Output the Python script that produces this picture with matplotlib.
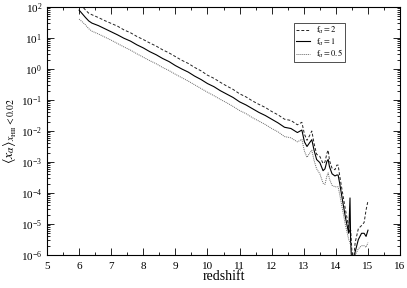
import numpy as np
import matplotlib
matplotlib.use("Agg")
import matplotlib.pyplot as plt
from matplotlib.ticker import FixedLocator, MultipleLocator, NullFormatter, LogFormatterSciNotation

plt.rcParams['font.family'] = ['Liberation Serif', 'DejaVu Serif']
plt.rcParams['mathtext.fontset'] = 'stix'

redshift = [6.0, 6.1, 6.2, 6.3, 6.4, 6.6, 6.8, 7.0, 7.2, 7.4, 7.6, 7.8, 8.0, 8.2, 8.4, 8.6,
            8.8, 9.0, 9.2, 9.4, 9.6, 9.8, 10.0, 10.2, 10.4, 10.6, 10.8, 11.0, 11.2, 11.4,
            11.6, 11.8, 12.0, 12.2, 12.4, 12.6, 12.8, 12.94, 13.02, 13.1, 13.18, 13.25,
            13.32, 13.4, 13.5, 13.6, 13.66, 13.72, 13.76, 13.8, 13.88, 13.97, 14.03, 14.07,
            14.12, 14.2, 14.3, 14.4, 14.44, 14.46, 14.5, 14.55, 14.6, 14.7, 14.8, 14.88,
            14.94, 15.0]

# log10 of <x_alpha>
log_f2 = [2.25, 2.02, 1.90, 1.80, 1.75, 1.66, 1.56, 1.47, 1.38, 1.26, 1.17, 1.05, 0.95, 0.84,
          0.74, 0.62, 0.52, 0.40, 0.28, 0.18, 0.05, -0.06, -0.20, -0.30, -0.43, -0.55, -0.66,
          -0.80, -0.90, -1.03, -1.14, -1.24, -1.37, -1.48, -1.62, -1.66, -1.80, -1.72, -2.10,
          -2.30, -2.15, -2.00, -2.40, -2.75, -2.82, -3.05, -3.00, -2.72, -2.62, -2.95, -3.20,
          -3.25, -3.10, -3.10, -3.45, -3.95, -4.55, -5.10, -5.30, -5.20, -5.90, -6.20, -5.60,
          -5.15, -5.05, -4.95, -4.55, -4.25]

log_f1 = [1.90, 1.78, 1.66, 1.55, 1.48, 1.40, 1.30, 1.20, 1.10, 0.99, 0.90, 0.78, 0.68, 0.56,
          0.46, 0.34, 0.24, 0.11, 0.00, -0.10, -0.23, -0.34, -0.47, -0.57, -0.70, -0.81,
          -0.92, -1.06, -1.16, -1.28, -1.40, -1.50, -1.62, -1.74, -1.88, -1.92, -2.05, -1.97,
          -2.35, -2.50, -2.38, -2.28, -2.62, -2.92, -3.02, -3.28, -3.22, -2.98, -2.92, -3.15,
          -3.38, -3.45, -3.42, -3.42, -3.70, -4.20, -4.80, -5.30, -4.16, -5.60, -6.30, -6.30,
          -5.90, -5.50, -5.30, -5.30, -5.40, -5.20]

log_f05 = [1.61, 1.52, 1.42, 1.30, 1.22, 1.13, 1.03, 0.93, 0.82, 0.71, 0.61, 0.49, 0.38, 0.27,
           0.17, 0.05, -0.05, -0.17, -0.28, -0.39, -0.51, -0.63, -0.75, -0.86, -0.98, -1.09,
           -1.21, -1.34, -1.44, -1.57, -1.68, -1.79, -1.92, -2.03, -2.18, -2.22, -2.35, -2.27,
           -2.65, -2.85, -2.72, -2.62, -2.95, -3.22, -3.38, -3.68, -3.72, -3.45, -3.35, -3.55,
           -3.75, -3.80, -3.80, -3.80, -4.05, -4.50, -5.05, -5.50, -5.60, -5.70, -6.30, -6.20,
           -6.00, -5.80, -5.70, -5.70, -5.75, -5.60]

labels = [r'$\mathrm{f}_\alpha = 2$', r'$\mathrm{f}_\alpha = 1$', r'$\mathrm{f}_\alpha = 0.5$']
y_decades = [-6, -5, -4, -3, -2, -1, 0, 1, 2]

fig = plt.figure(figsize=(4.07, 2.88), dpi=100)
ax = fig.add_axes([0.1155, 0.1146, 0.8675, 0.8611])

z = np.array(redshift)
ax.plot(z, 10 ** np.array(log_f2), color='#222222', lw=0.7, ls=(0, (3, 2)), label=labels[0])
ax.plot(z, 10 ** np.array(log_f1), color='black', lw=0.8, ls='-', label=labels[1])
ax.plot(z, 10 ** np.array(log_f05), color='#666666', lw=0.7, ls=(0, (1, 1)), label=labels[2])

ax.set_yscale('log')
ax.set_xlim(5, 16)
ax.set_ylim(1e-6, 1e2)
ax.xaxis.set_major_locator(MultipleLocator(1))
ax.xaxis.set_minor_locator(MultipleLocator(0.5))
major = [10.0 ** d for d in y_decades]
minor = [m * 10.0 ** d for d in y_decades[:-1] for m in range(2, 10)]
ax.yaxis.set_major_locator(FixedLocator(major))
ax.yaxis.set_major_formatter(LogFormatterSciNotation())
ax.yaxis.set_minor_locator(FixedLocator(minor))
ax.yaxis.set_minor_formatter(NullFormatter())
ax.tick_params(which='both', direction='in', top=True, right=True, labelsize=8, width=0.6)
ax.tick_params(axis='x', which='major', pad=5)
ax.tick_params(which='major', length=5)
ax.tick_params(which='minor', length=2.5)
for s in ax.spines.values():
    s.set_linewidth(0.8)

ax.set_xlabel('redshift', fontsize=10, labelpad=-1)
ax.set_ylabel(r'$\langle x_\alpha \rangle_{x_{\mathrm{HII}} < 0.02}$', fontsize=10, labelpad=1)

leg = ax.legend(loc='upper left', bbox_to_anchor=(0.70, 0.935), fontsize=6.0, frameon=True,
                fancybox=False, edgecolor='black', handlelength=1.6, handletextpad=0.8,
                borderpad=0.25, labelspacing=0.0, borderaxespad=0)
leg.get_frame().set_linewidth(0.6)

fig.savefig('out.png', dpi=100)
